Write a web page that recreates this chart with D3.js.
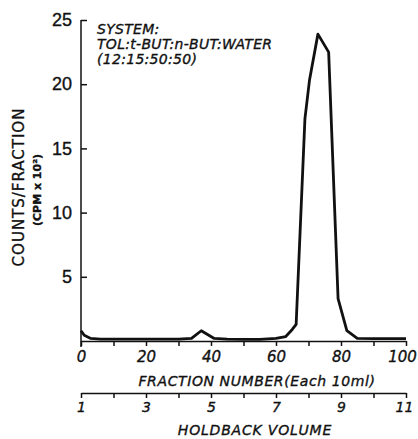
<!doctype html>
<html lang="en">
<head>
<meta charset="utf-8">
<title>Counts per fraction</title>
<script src="https://cdn.jsdelivr.net/npm/d3@7"></script>
<style>
  body { margin: 0; background: #fff; }
  svg { display: block; }
  text { fill: #111; stroke: #111; stroke-width: 0.35px; font-family: "DejaVu Sans", sans-serif; }
  .it { font-style: italic; }
  .axis path, .axis line { stroke: #111; stroke-width: 1.5; }
</style>
</head>
<body>
<svg id="chart" width="418" height="439"></svg>
<script>
// data
var fraction = [0, 1, 3, 6, 10, 20, 30, 34, 37, 41, 45, 50, 55, 60, 63, 65, 66.2, 68.9, 70.3, 72.9, 76.2, 79.1, 81.8, 85, 90, 95, 100];
var counts   = [0.8, 0.45, 0.2, 0.15, 0.15, 0.15, 0.15, 0.2, 0.8, 0.2, 0.15, 0.12, 0.12, 0.2, 0.35, 0.9, 1.3, 17.3, 20.3, 23.9, 22.5, 3.3, 0.8, 0.2, 0.18, 0.18, 0.18];
var yTicks = [5, 10, 15, 20, 25];
var xTicks = [0, 10, 20, 30, 40, 50, 60, 70, 80, 90, 100];
var xLabels = [0, 20, 40, 60, 80, 100];
var holdTicks = [1, 2, 3, 4, 5, 6, 7, 8, 9, 10, 11];
var holdLabels = [1, 3, 5, 7, 9, 11];
var systemLines = ["SYSTEM:", "TOL:t-BUT:n-BUT:WATER", "(12:15:50:50)"];

var svg = d3.select("#chart");

var x = d3.scaleLinear().domain([0, 100]).range([81, 406]);
var y = d3.scaleLinear().domain([0, 25]).range([341, 20]);
var hold = d3.scaleLinear().domain([1, 11]).range([81, 406]);

// y axis, ticks pointing inward
var yAxis = svg.append("g").attr("class", "axis")
  .attr("transform", "translate(" + x(0) + ",0)")
  .call(d3.axisLeft(y).tickValues(yTicks).tickSize(-6).tickSizeOuter(0).tickFormat(d3.format("d")));
yAxis.selectAll("text").attr("x", -9).style("font-size", "18px").style("font-family", "'Liberation Sans', sans-serif");
yAxis.select(".domain").attr("d", "M0," + y(25) + "V" + (y(0) + 6));

// fraction axis
var xAxis = svg.append("g").attr("class", "axis")
  .attr("transform", "translate(0," + y(0) + ")")
  .call(d3.axisBottom(x).tickValues(xTicks).tickSize(5).tickSizeOuter(0)
    .tickFormat(function(d) { return xLabels.indexOf(d) >= 0 ? d : ""; }));
xAxis.selectAll("text").attr("y", 10).attr("class", "it").style("font-size", "15px")
  .attr("dx", function(d) { return d === 100 ? -4 : 0; });

svg.append("text").attr("class", "it")
  .attr("x", 257).attr("y", 386)
  .attr("text-anchor", "middle")
  .style("font-size", "14px").style("letter-spacing", "0.6px")
  .text("FRACTION  NUMBER(Each 10ml)");

// holdback volume axis
var hAxis = svg.append("g").attr("class", "axis")
  .attr("transform", "translate(0,393)")
  .call(d3.axisBottom(hold).tickValues(holdTicks).tickSize(5).tickSizeOuter(0)
    .tickFormat(function(d) { return holdLabels.indexOf(d) >= 0 ? d : ""; }));
hAxis.selectAll("text").attr("y", 9).attr("class", "it").style("font-size", "14px")
  .attr("dx", function(d) { return d === 11 ? -2 : 0; });

svg.append("text").attr("class", "it")
  .attr("x", 255).attr("y", 435)
  .attr("text-anchor", "middle")
  .style("font-size", "14px").style("letter-spacing", "0.8px")
  .text("HOLDBACK  VOLUME");

// y titles
svg.append("text")
  .attr("transform", "translate(24,187) rotate(-90)")
  .attr("text-anchor", "middle")
  .style("font-size", "15px").style("letter-spacing", "1px")
  .text("COUNTS/FRACTION");
svg.append("text")
  .attr("transform", "translate(41,190) rotate(-90)")
  .attr("text-anchor", "middle")
  .style("font-size", "11px").style("font-weight", "bold")
  .text("(CPM x 10²)");

// system annotation
svg.append("g").selectAll("text").data(systemLines).enter()
  .append("text").attr("class", "it")
  .attr("x", 97)
  .attr("y", function(d, i) { return 34 + i * 15; })
  .style("font-size", "14px").style("letter-spacing", "0.3px")
  .text(function(d) { return d; });

// curve
var line = d3.line()
  .x(function(d, i) { return x(fraction[i]); })
  .y(function(d) { return y(d); });

svg.append("path")
  .datum(counts)
  .attr("d", line)
  .attr("fill", "none")
  .attr("stroke", "#111")
  .attr("stroke-width", 2.8)
  .attr("stroke-linejoin", "round");
</script>
</body>
</html>
